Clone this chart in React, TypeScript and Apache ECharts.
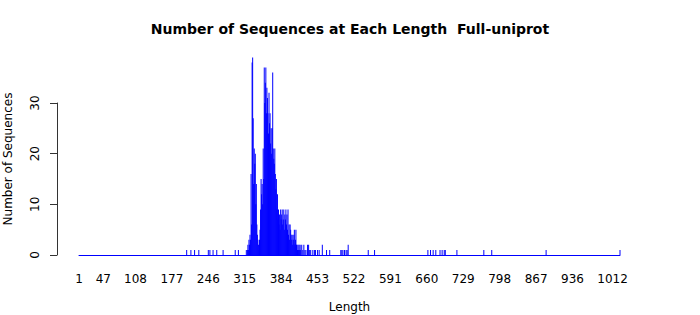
import React, { useEffect, useRef } from "react";
import * as echarts from "echarts";

// Length range shown on the x axis
const minLength = 1;
const maxLength = 1026;

// Lengths with at least one sequence and their counts (all other lengths are 0)
const lengths = [
  205, 213, 220, 228, 246, 249, 255, 262, 274, 297, 303,
  318, 320, 321, 322, 323, 324, 325, 326, 327, 328, 329, 330, 331, 332, 333, 334, 335, 336, 337, 338, 339,
  340, 341, 342, 343, 344, 345, 346, 347, 348, 349, 350, 351, 352, 353, 354, 355, 356, 357, 358, 359,
  360, 361, 362, 363, 364, 365, 366, 367, 368, 369, 370, 371, 372, 373, 374, 375, 376, 377, 378, 379,
  380, 381, 382, 383, 384, 385, 386, 387, 388, 389, 390, 391, 392, 393, 394, 395, 396, 397, 398, 399,
  400, 401, 402, 403, 404, 405, 406, 407, 408, 409, 410, 411, 412, 413, 414, 415, 416, 417, 418, 419,
  420, 421, 423, 425, 427, 429, 431, 434, 436, 438, 440, 444, 447, 449, 453, 456, 462, 470, 476,
  497, 499, 501, 504, 507, 509, 511,
  549, 561, 662, 667, 672, 677, 685, 689, 693, 695, 717, 768, 783, 886, 1026,
];
const counts = [
  1, 1, 1, 1, 1, 1, 1, 1, 1, 1, 1,
  1, 1, 2, 1, 3, 2, 4, 3, 16, 6, 38, 39, 27, 14, 21, 18, 20, 10, 14, 6, 4,
  3, 2, 1, 3, 5, 9, 15, 12, 14, 10, 21, 15, 37, 30, 34, 37, 28, 33, 31, 28,
  24, 32, 26, 28, 22, 25, 20, 25, 36, 21, 19, 18, 21, 16, 13, 15, 9, 12, 7, 9,
  6, 8, 5, 9, 7, 8, 9, 6, 7, 9, 5, 8, 7, 9, 6, 8, 5, 9, 4, 6,
  3, 6, 5, 4, 3, 4, 2, 3, 4, 5, 2, 3, 5, 2, 2, 1, 2, 1, 2, 1,
  2, 1, 2, 1, 2, 1, 1, 2, 2, 1, 1, 1, 1, 1, 1, 1, 2, 1, 1,
  1, 1, 1, 1, 1, 1, 2,
  1, 1, 1, 1, 1, 1, 1, 1, 1, 1, 1, 1, 1, 1, 1,
];

// Tick labels shown on the x axis
const xTickLabels = [1, 47, 108, 177, 246, 315, 384, 453, 522, 591, 660, 729, 798, 867, 936, 1012];
const yTicks = { min: 0, max: 30, interval: 10 };

const titleText = "Number of Sequences at Each Length  Full-uniprot";
const xName = "Length";
const yName = "Number of Sequences";

export default function App() {
  const ref = useRef<HTMLDivElement>(null);

  useEffect(() => {
    if (!ref.current) return;
    const chart = echarts.init(ref.current, null, { renderer: "svg" });

    const categories: string[] = [];
    for (let l = minLength; l <= maxLength; l++) categories.push(String(l));
    const countMap = new Map<number, number>();
    lengths.forEach((l, i) => countMap.set(l, counts[i]));
    const values = categories.map((c) => countMap.get(Number(c)) ?? 0);
    const labelSet = new Set(xTickLabels.map(String));

    const font = "'DejaVu Sans', sans-serif";

    chart.setOption({
      animation: false,
      backgroundColor: "#ffffff",
      title: {
        text: titleText,
        left: "center",
        top: 17,
        textStyle: { fontFamily: font, fontSize: 14, fontWeight: "bold", color: "#000" },
      },
      grid: { left: 79, right: 80, top: 103, bottom: 60, outerBoundsMode: "none", containLabel: false },
      xAxis: {
        type: "category",
        data: categories,
        boundaryGap: false,
        axisLine: { show: true, onZero: true, lineStyle: { color: "#0000ff", width: 1 } },
        axisTick: { show: false },
        splitLine: { show: false },
        axisLabel: {
          interval: (_i: number, v: string) => labelSet.has(v),
          margin: 18,
          fontFamily: font,
          fontSize: 12,
          color: "#000",
        },
        name: xName,
        nameLocation: "middle",
        nameGap: 46,
        nameTextStyle: { fontFamily: font, fontSize: 12, color: "#000" },
      },
      yAxis: {
        type: "value",
        min: yTicks.min,
        max: yTicks.max,
        interval: yTicks.interval,
        offset: 22,
        axisLine: { show: true, lineStyle: { color: "#333", width: 1 } },
        axisTick: { show: true, length: 7, lineStyle: { color: "#333" } },
        splitLine: { show: false },
        axisLabel: {
          rotate: 90,
          margin: 16,
          fontFamily: font,
          fontSize: 12,
          color: "#000",
        },
        name: yName,
        nameLocation: "middle",
        nameGap: 43,
        nameTextStyle: { fontFamily: font, fontSize: 12, color: "#000", padding: [0, 0, 0, 40] },
      },
      series: [
        {
          type: "bar",
          data: values,
          barWidth: 1,
          clip: false,
          itemStyle: { color: "#0000ff" },
        },
      ],
    });

    return () => chart.dispose();
  }, []);

  return (
    <div
      ref={ref}
      style={{ position: "absolute", left: 0, top: 0, width: 700, height: 315 }}
    />
  );
}
